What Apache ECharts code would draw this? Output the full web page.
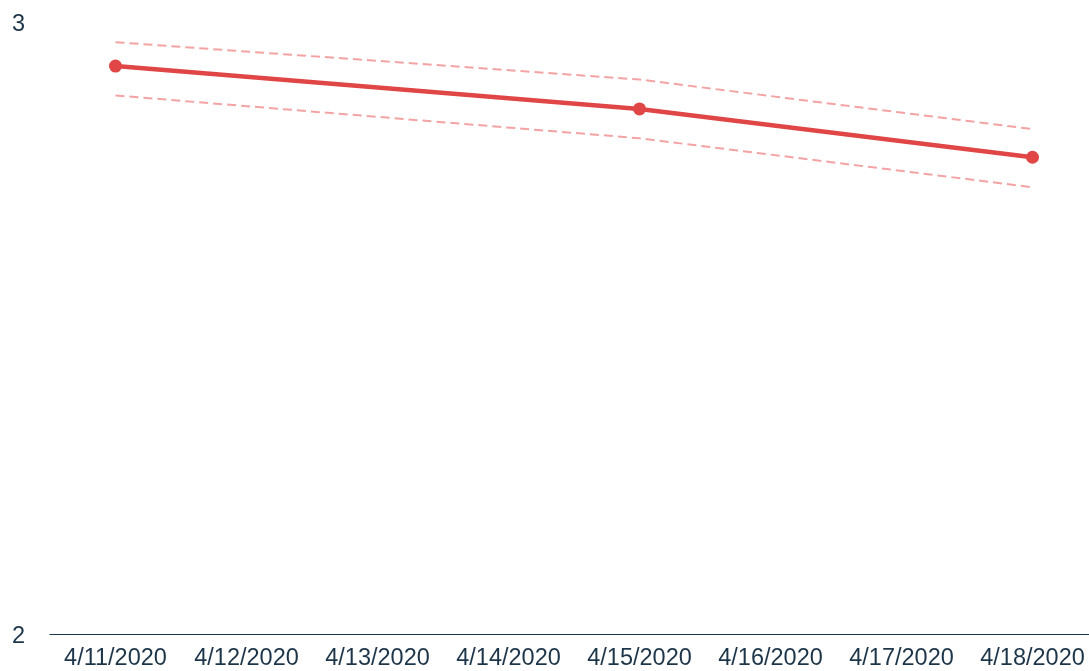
<!DOCTYPE html>
<html><head><meta charset="utf-8">
<script src="https://cdn.jsdelivr.net/npm/echarts@6/dist/echarts.min.js"></script>
<style>html,body{margin:0;padding:0;background:#fff;overflow:hidden;width:1089px;height:671px}#c{width:1098px;height:671px}</style>
</head><body><div id="c"></div>
<script>
const categories = ['4/11/2020','4/12/2020','4/13/2020','4/14/2020','4/15/2020','4/16/2020','4/17/2020','4/18/2020'];
const mainValues = [2.928, null, null, null, 2.858, null, null, 2.779];
const upperValues = [2.967, null, null, null, 2.906, null, null, 2.825];
const lowerValues = [2.880, null, null, null, 2.810, null, null, 2.730];
const yTicks = [2, 3];

const chart = echarts.init(document.getElementById('c'));
const textColor = '#1d3549';
chart.setOption({
  animation: false,
  grid: { left: 50, top: 22, right: 0, bottom: 37, containLabel: false },
  xAxis: {
    type: 'category', data: categories, boundaryGap: true,
    axisLine: { show: true, lineStyle: { color: textColor, width: 1.2 } },
    axisTick: { show: false },
    axisLabel: { color: textColor, fontSize: 23.5, fontFamily: 'Arial', margin: 13, interval: 0 },
    splitLine: { show: false }
  },
  yAxis: {
    type: 'value', min: yTicks[0], max: yTicks[yTicks.length - 1], interval: 1,
    axisLine: { show: false }, axisTick: { show: false }, splitLine: { show: false },
    axisLabel: {
      color: textColor, fontSize: 23.5, fontFamily: 'Arial', align: 'left', margin: 38,
      formatter: '{a|{value}}',
      rich: { a: { color: textColor, fontSize: 23.5, fontFamily: 'Arial', padding: [6, 0, 0, 0] } }
    }
  },
  series: [
    { type: 'line', data: upperValues, connectNulls: true, symbol: 'none',
      lineStyle: { color: '#f3a3a3', width: 2, type: [9, 5] }, z: 1 },
    { type: 'line', data: lowerValues, connectNulls: true, symbol: 'none',
      lineStyle: { color: '#f3a3a3', width: 2, type: [9, 5] }, z: 1 },
    { type: 'line', data: mainValues, connectNulls: true, symbol: 'circle', symbolSize: 13,
      itemStyle: { color: '#e04646' }, lineStyle: { color: '#e04646', width: 4.5 }, z: 3 }
  ]
});
</script></body></html>
